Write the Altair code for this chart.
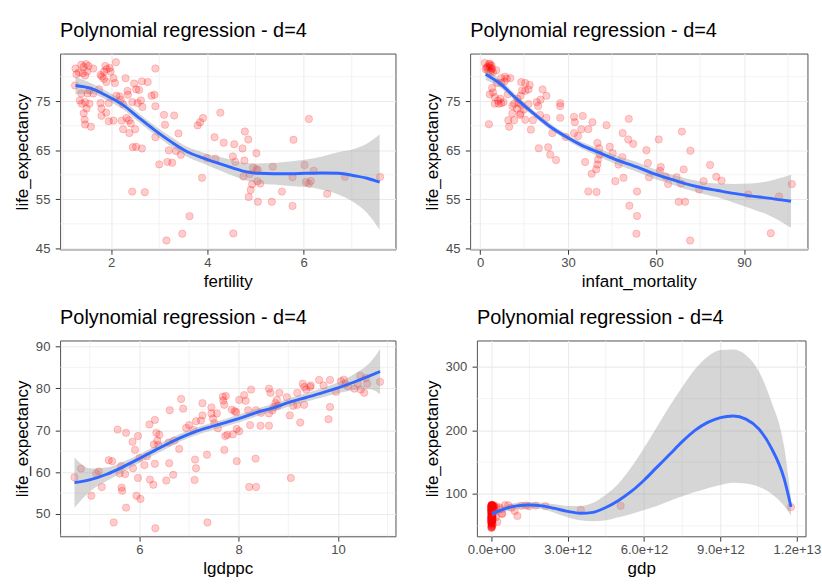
import altair as alt
import pandas as pd

# ---------------- Panel 1: fertility ----------------
fert_x = [1.26, 1.33, 1.38, 1.43, 1.48, 1.53, 1.50, 1.63, 1.78, 1.81, 1.85, 1.88, 1.91, 1.97, 1.99, 2.10, 2.05, 2.92,
          1.28, 1.41, 1.46, 1.85, 1.90, 2.08, 2.30, 2.48, 2.64, 2.76, 1.25, 1.55, 1.75, 1.63, 1.38, 1.51, 2.11, 2.18,
          2.34, 2.35, 2.52, 2.58, 2.84, 2.90, 1.35, 1.39, 1.46, 1.55, 1.49, 1.78, 1.95, 2.20, 2.44, 2.55, 2.62, 2.25,
          2.65, 2.92, 1.43, 1.80, 1.90, 1.80, 1.95, 2.05, 2.22, 2.32, 2.37, 2.41, 1.45, 1.46, 1.58, 2.25, 2.50, 2.38,
          3.10, 3.31, 3.12, 3.40, 2.92, 3.80, 3.85, 3.91, 4.27, 4.15, 4.34, 2.45, 2.52, 2.64, 3.20, 3.35, 3.45, 3.00,
          3.17, 3.27, 3.99, 4.17, 3.89, 2.44, 2.70, 3.63, 3.48, 3.15,
          4.78, 4.85, 4.56, 4.73, 4.53, 4.58, 4.77, 5.02, 4.95, 5.02, 5.05, 4.88, 4.75, 5.04, 5.10, 4.93, 4.90, 4.86,
          5.05, 5.34, 5.36, 5.55, 5.77, 5.79, 5.77, 6.11, 6.02, 6.05, 6.11, 6.15, 6.21, 6.49, 6.86, 7.59, 4.54]
fert_y = [81.65, 80.87, 82.43, 81.97, 82.56, 82.17, 81.0, 81.65, 80.35, 80.02, 81.0, 82.17, 81.52, 81.78, 81.0, 82.95, 79.69, 81.65,
          80.48, 80.68, 80.21, 79.56, 78.91, 78.72, 79.69, 78.59, 79.04, 78.91, 78.2, 77.22, 77.42, 76.57, 76.57, 76.57, 76.11, 75.98,
          77.09, 76.31, 77.42, 77.29, 76.11, 76.31, 75.14, 74.49, 74.81, 74.49, 73.51, 74.62, 74.62, 75.27, 74.81, 74.62, 75.14, 74.36,
          73.83, 73.96, 72.53, 73.51, 72.66, 72.01, 70.91, 71.04, 71.04, 71.56, 71.10, 70.45, 71.23, 70.25, 69.80, 69.28, 69.28, 68.50,
          72.21, 72.08, 70.19, 68.43, 67.65, 70.06, 70.71, 71.56, 72.66, 67.65, 66.54, 65.63, 65.70, 65.37, 64.98, 64.85, 64.07, 62.12,
          62.64, 62.44, 63.42, 63.29, 59.38, 56.58, 56.45, 51.57, 47.99, 46.62,
          68.82, 67.19, 66.22, 65.37, 63.74, 62.64, 62.90, 64.40, 61.47, 61.14, 60.95, 60.16, 59.64, 58.67, 58.21, 58.08, 56.91, 55.47,
          54.50, 54.50, 61.66, 56.58, 59.51, 67.13, 53.65, 71.36, 61.99, 58.54, 58.21, 58.73, 60.82, 56.13, 59.58, 59.58, 48.05]
fert_fit_x = [1.26, 1.58, 1.91, 2.25, 2.58, 2.92, 3.25, 3.58, 3.92, 4.40, 4.72, 5.05, 5.38, 5.72, 6.05, 6.39, 6.72, 7.06, 7.32, 7.58]
fert_fit_y = [78.2, 77.6, 76.1, 74.2, 71.6, 69.0, 66.7, 64.7, 63.4, 61.8, 60.8, 60.3, 60.2, 60.2, 60.3, 60.35, 60.3, 59.8, 59.3, 58.5]
fert_fit_lo = [76.4, 76.5, 75.2, 73.3, 70.7, 68.1, 65.7, 63.7, 62.3, 60.3, 59.1, 58.3, 58.0, 57.7, 57.5, 56.95, 56.0, 54.3, 52.2, 48.8]
fert_fit_hi = [80.0, 78.7, 77.0, 75.1, 72.5, 69.9, 67.7, 65.7, 64.5, 63.3, 62.5, 62.3, 62.4, 62.7, 63.1, 63.75, 64.6, 65.3, 66.4, 68.2]

# ---------------- Panel 2: infant mortality ----------------
im_x = [1.6, 3.0, 3.9, 2.2, 3.3, 4.1, 2.8, 3.6, 5.5, 1.9, 4.4, 3.2, 2.5, 3.9, 3.4,
        7.2, 8.5, 9.1, 10.3, 7.2, 8.3, 5.8, 4.1, 3.3, 4.4, 5.0, 5.0, 6.1, 6.9, 7.2, 6.3, 8.0, 9.4,
        14.0, 15.4, 16.9, 14.3, 15.4, 16.5, 13.8, 12.7, 13.2, 11.6, 11.0, 12.5, 14.1, 14.9, 16.5, 19.3, 19.8, 20.6, 21.3, 22.6,
        13.8, 13.6, 11.0, 11.6, 9.6, 9.9, 15.4, 17.3, 18.0, 20.4, 22.6, 24.6, 27.3, 27.3, 27.3, 29.2, 32.0, 32.3, 35.0, 32.0,
        33.4, 34.5, 36.9, 38.3, 43.1, 50.7, 48.6, 50.5, 52.2,
        40.0, 40.6, 40.8, 40.2, 40.0, 39.6, 38.0, 35.8, 44.2, 45.2, 48.5, 47.2, 46.1, 48.9, 20.0, 23.2, 23.9, 25.9, 3.0,
        36.9, 39.7, 53.5, 50.9, 53.5, 53.3,
        68.8, 60.9, 56.7, 71.7, 57.2, 61.6, 61.3, 57.6, 63.3, 64.1, 67.0, 68.5, 69.4, 67.7, 69.9, 74.7, 76.2, 78.4, 80.5,
        82.3, 91.4, 101.9, 106.3, 99.1, 71.6]
im_y = [82.8, 82.6, 82.3, 81.8, 81.8, 81.7, 81.1, 81.0, 81.3, 81.5, 80.9, 82.2, 82.0, 81.4, 82.6,
        79.7, 80.0, 79.6, 79.7, 78.7, 79.0, 78.7, 77.7, 76.4, 76.8, 75.8, 74.5, 75.1, 75.5, 74.6, 74.5, 74.8, 76.4,
        78.9, 78.7, 78.3, 77.2, 77.1, 77.4, 76.1, 75.5, 74.6, 74.5, 74.0, 73.5, 74.2, 73.3, 74.4, 74.8, 74.0, 75.3, 77.4, 76.1,
        72.5, 72.2, 72.5, 71.1, 71.1, 69.8, 71.2, 69.2, 71.1, 72.2, 71.6, 68.5, 74.6, 74.0, 71.6, 67.7, 71.8, 70.7, 72.0, 68.5,
        67.9, 69.3, 69.3, 70.7, 70.1, 71.4, 68.5, 67.2, 66.3,
        66.5, 65.4, 64.1, 63.1, 62.1, 61.1, 60.2, 62.6, 65.7, 64.4, 63.6, 62.1, 58.7, 59.4, 65.4, 65.6, 64.1, 63.0, 70.3,
        56.6, 56.5, 56.6, 53.7, 51.6, 48.0,
        68.8, 67.2, 65.0, 64.9, 62.4, 61.6, 60.8, 59.5, 59.6, 58.1, 59.5, 58.2, 61.1, 54.5, 54.5, 57.0, 58.7, 62.0, 59.6,
        58.8, 56.0, 55.6, 58.1, 48.1, 46.6]
im_fit_x = [1.9, 7.2, 12.7, 18.2, 23.7, 29.2, 34.7, 40.2, 45.8, 53.4, 58.9, 64.4, 69.9, 75.4, 80.9, 86.5, 92.0, 97.5, 106.0]
im_fit_y = [80.5, 78.4, 75.3, 72.5, 69.9, 67.8, 66.0, 64.6, 63.2, 61.6, 60.3, 59.2, 58.2, 57.4, 56.8, 56.2, 55.7, 55.3, 54.6]
im_fit_lo = [79.3, 77.6, 74.6, 71.9, 69.3, 67.2, 65.3, 63.8, 62.3, 60.6, 59.3, 58.2, 57.1, 56.2, 55.4, 54.3, 53.2, 52.0, 49.2]
im_fit_hi = [81.7, 79.2, 76.0, 73.1, 70.5, 68.4, 66.7, 65.4, 64.1, 62.6, 61.3, 60.2, 59.3, 58.6, 58.2, 58.1, 58.2, 58.6, 60.0]

# ---------------- Panel 3: log gdp per capita ----------------
lg_x = [4.69, 4.82, 5.03, 5.13, 5.18, 5.24, 5.38, 5.45, 5.48, 5.56, 5.60, 5.63, 5.64, 5.65, 5.71, 5.73, 5.73, 5.86, 5.87,
        5.91, 5.94, 5.97, 5.97, 6.00, 6.02, 6.10, 6.15, 6.20, 6.21, 6.28, 6.29, 6.31, 6.31, 6.32, 6.34, 6.36, 6.40, 6.38,
        6.54, 6.59, 6.60, 6.61, 6.68, 6.70, 6.80, 6.84, 6.88, 6.94, 7.00, 7.09, 7.11, 7.12, 7.14, 7.14, 7.27, 7.27, 7.24,
        7.36, 7.37, 7.45, 7.45, 7.48, 7.51, 7.56, 7.58, 7.68, 7.69, 7.71, 7.74, 7.73, 7.71, 7.77,
        7.96, 8.01, 7.88, 7.96, 8.01, 8.11, 8.14, 8.25, 8.19, 8.23, 8.35, 8.34, 8.44, 8.45, 8.61, 8.61, 8.64, 8.61, 8.68,
        8.74, 8.77, 8.79, 8.82, 8.71, 8.97, 9.03, 9.10, 9.18, 9.24, 9.18, 9.29, 9.32, 9.36, 9.44, 9.45, 9.32, 9.62, 9.71,
        9.84, 9.84, 9.81, 9.96, 10.06, 10.12, 10.15, 10.20, 10.33, 10.40, 10.45, 10.46, 10.53, 10.59, 10.56, 10.85,
        9.05, 8.21, 8.35, 7.86, 7.92, 7.95]
lg_y = [58.77, 60.85, 54.38, 59.69, 60.15, 56.46, 62.85, 62.62, 48.0, 70.15, 59.69, 61.46, 56.31, 55.54, 59.54, 69.38, 51.54, 67.23, 60.92,
        65.31, 54.38, 68.62, 58.62, 63.38, 53.62, 61.69, 63.77, 71.38, 58.23, 57.0, 66.62, 72.46, 62.0, 46.62, 69.38, 67.54, 68.92, 66.46,
        58.0, 67.08, 62.15, 74.77, 59.38, 67.54, 65.54, 77.46, 75.15, 70.54, 71.23, 70.08, 58.15, 63.0, 60.92, 72.15, 76.46, 73.54, 72.3,
        64.15, 48.0, 75.46, 74.0, 72.77, 71.69, 74.0, 70.46, 78.0, 77.08, 76.08, 78.15, 68.62, 65.31, 68.9,
        62.62, 69.77, 69.0, 70.31, 77.23, 78.38, 77.0, 79.69, 74.77, 71.23, 74.77, 63.23, 71.08, 74.15, 79.92, 71.08, 78.92, 74.0, 74.77,
        76.46, 77.23, 75.85, 78.92, 75.54, 77.85, 73.54, 75.85, 78.92, 71.85, 76.08, 81.08, 80.31, 79.69, 80.31, 80.69, 76.08, 82.0, 80.69,
        82.0, 75.54, 72.62, 79.15, 81.69, 82.08, 81.08, 80.46, 79.92, 81.08, 83.0, 79.69, 78.92, 81.08, 82.46, 81.54,
        58.62, 56.46, 56.46, 74.92, 74.54, 74.31]
lg_fit_x = [4.69, 5.01, 5.34, 5.66, 5.99, 6.31, 6.64, 6.96, 7.29, 7.73, 8.06, 8.38, 8.71, 9.03, 9.36, 9.68, 10.0, 10.33, 10.65, 10.85]
lg_fit_y = [57.5, 58.2, 59.5, 61.2, 63.2, 65.2, 67.2, 68.9, 70.3, 71.8, 73.0, 74.3, 75.4, 76.7, 77.8, 78.9, 80.1, 81.5, 83.0, 84.0]
lg_fit_lo = [51.5, 55.5, 57.9, 60.0, 62.2, 64.2, 66.2, 68.0, 69.4, 70.9, 72.1, 73.4, 74.5, 75.7, 76.8, 77.8, 78.8, 79.6, 79.8, 78.6]
lg_fit_hi = [63.5, 60.9, 61.1, 62.4, 64.2, 66.2, 68.2, 69.8, 71.2, 72.7, 73.9, 75.2, 76.3, 77.7, 78.8, 80.0, 81.4, 83.4, 86.2, 89.4]

# ---------------- Panel 4: gdp (read in trillions, scaled to dollars below) ----------------
gdp_x_tn = [0.005, 0.02, 0.01, 0.04, 0.015, 0.03, 0.008, 0.06, 0.025, 0.012,
            0.004, 0.018, 0.011, 0.035, 0.016, 0.028, 0.007, 0.05, 0.022, 0.013,
            0.006, 0.021, 0.009, 0.045, 0.014, 0.032, 0.008, 0.07, 0.026, 0.012,
            0.003, 0.019, 0.010, 0.038, 0.017, 0.029, 0.006, 0.055, 0.024, 0.011,
            0.005, 0.023, 0.012, 0.042, 0.015, 0.031, 0.009, 0.065, 0.027, 0.013,
            0.004, 0.02, 0.01, 0.048, 0.016, 0.034, 0.007, 0.08, 0.03, 0.014,
            0.006, 0.022, 0.011, 0.052, 0.018, 0.036, 0.008, 0.09, 0.033, 0.015,
            0.005, 0.025, 0.012, 0.06, 0.02, 0.04, 0.009, 0.1, 0.035, 0.016,
            0.007, 0.028, 0.013, 0.065, 0.022, 0.045, 0.01, 0.11, 0.038, 0.018,
            0.006, 0.03, 0.014, 0.07, 0.024, 0.05, 0.012, 0.12, 0.04, 0.02,
            0.35, 0.42, 0.54, 0.67, 0.80, 0.92, 1.03, 1.18, 1.37, 1.49, 1.75, 2.13, 3.52, 5.08,
            0.24, 0.43, 0.33, 0.20, 0.15, 0.18, 11.77]
gdp_y = [46.6, 47.5, 48.0, 48.1, 49.5, 50.2, 51.6, 52.4, 53.7, 54.5,
         54.5, 55.5, 55.6, 56.1, 56.5, 56.6, 57.0, 57.4, 58.1, 58.2,
         58.7, 59.1, 59.4, 59.6, 60.2, 60.5, 60.8, 61.1, 61.5, 62.0,
         62.4, 62.6, 63.0, 63.4, 63.7, 64.0, 64.4, 64.9, 65.4, 65.7,
         66.2, 66.5, 67.2, 67.8, 68.5, 68.8, 69.3, 69.8, 70.3, 70.7,
         71.0, 71.6, 72.1, 72.5, 72.6, 73.2, 73.5, 73.8, 74.0, 74.3,
         74.5, 74.8, 75.0, 75.2, 75.6, 76.1, 76.4, 76.6, 77.0, 77.2,
         77.4, 77.8, 78.0, 78.3, 78.7, 78.9, 79.1, 79.5, 79.7, 80.0,
         80.2, 80.4, 80.8, 81.0, 81.2, 81.5, 81.6, 81.8, 82.0, 82.2,
         82.3, 82.6, 82.9, 83.0, 71.2, 74.6, 76.8, 79.9, 81.3, 82.5,
         75.8, 69.2, 82.6, 82.3, 78.3, 73.2, 65.6, 81.5, 82.0, 80.8, 81.8, 81.0, 75.0, 81.4,
         56.1, 68.7, 78.8, 80.5, 72.0, 63.5, 79.5]
gdp_fit_x_tn = [0.03, 0.5, 1.0, 1.5, 2.0, 2.5, 3.0, 3.5, 4.0, 4.5, 5.0, 5.5, 6.0, 6.5, 7.0, 7.5, 8.0, 8.5, 9.0,
                9.5, 10.0, 10.5, 11.0, 11.5, 11.77]
gdp_fit_y = [68.7, 76.3, 81.3, 82.8, 81.3, 77.3, 72.7, 69.7, 71.2, 78.8, 89.9, 104.0, 121.7, 141.9, 162.0, 182.3,
             200.0, 212.6, 220.2, 222.7, 217.7, 202.5, 172.2, 124.2, 79.5]
gdp_fit_lo = [64.6, 71.2, 76.3, 77.8, 76.3, 70.2, 63.6, 58.6, 57.1, 58.6, 63.6, 68.7, 74.7, 81.3, 88.9, 96.5,
              103.0, 109.1, 114.1, 117.7, 116.7, 111.6, 100.5, 81.3, 66.0]
gdp_fit_hi = [72.7, 81.3, 86.4, 87.4, 86.4, 83.8, 81.3, 81.3, 86.4, 99.0, 116.7, 141.9, 172.2, 205.0, 237.9, 268.2,
              296.0, 316.2, 326.3, 327.3, 318.7, 293.4, 245.5, 174.7, 92.0]

TITLE = "Polynomial regression - d=4"
FONT = "Liberation Sans"
GRID = "#EBEBEB"


def panel(px, py, fx, fy, flo, fhi, xtitle, xdom, xticks, xminor, ydom, yticks, yminor, width, xlabelexpr=None):
    pts = pd.DataFrame({"x": px, "y": py})
    fit = pd.DataFrame({"x": fx, "y": fy, "lo": flo, "hi": fhi})
    xs = alt.Scale(domain=xdom, nice=False, zero=False)
    ys = alt.Scale(domain=ydom, nice=False, zero=False)
    axkw = dict(values=xticks, title=xtitle, labelFlush=False)
    if xlabelexpr:
        axkw["labelExpr"] = xlabelexpr
    xaxis = alt.Axis(**axkw)
    yaxis = alt.Axis(values=yticks, title="life_expectancy", labelFlush=False)

    mx = alt.Chart(pd.DataFrame({"x": xminor})).mark_rule(color=GRID, strokeWidth=0.6).encode(
        x=alt.X("x:Q", scale=xs, axis=xaxis))
    my = alt.Chart(pd.DataFrame({"y": yminor})).mark_rule(color=GRID, strokeWidth=0.6).encode(
        y=alt.Y("y:Q", scale=ys, axis=yaxis))
    points = alt.Chart(pts).mark_circle(
        size=58, fill="#FF0000", fillOpacity=0.2, stroke="#FF0000", strokeOpacity=0.22, strokeWidth=0.9
    ).encode(x=alt.X("x:Q", scale=xs, axis=xaxis), y=alt.Y("y:Q", scale=ys, axis=yaxis))
    band = alt.Chart(fit).mark_area(color="#999999", opacity=0.4, interpolate="monotone").encode(
        x=alt.X("x:Q", scale=xs, axis=xaxis), y=alt.Y("lo:Q", scale=ys, axis=yaxis), y2="hi:Q")
    line = alt.Chart(fit).mark_line(color="#3366FF", strokeWidth=3, interpolate="monotone").encode(
        x=alt.X("x:Q", scale=xs, axis=xaxis), y=alt.Y("y:Q", scale=ys, axis=yaxis))
    return alt.layer(mx, my, points, band, line).properties(
        width=width, height=202,
        title=alt.TitleParams(TITLE, anchor="start", frame="group", fontSize=20.5, font=FONT,
                              fontWeight="normal", color="black", offset=12),
    )


p1 = panel(fert_x, fert_y, fert_fit_x, fert_fit_y, fert_fit_lo, fert_fit_hi, "fertility",
           [0.94, 7.91], [2, 4, 6], [1, 3, 5, 7], [44.8, 84.7], [45, 55, 65, 75], [50, 60, 70, 80], 346)
p2 = panel(im_x, im_y, im_fit_x, im_fit_y, im_fit_lo, im_fit_hi, "infant_mortality",
           [-3.4, 111.6], [0, 30, 60, 90], [15, 45, 75, 105], [44.8, 84.7], [45, 55, 65, 75], [50, 60, 70, 80], 348)
p3 = panel(lg_x, lg_y, lg_fit_x, lg_fit_y, lg_fit_lo, lg_fit_hi, "lgdppc",
           [4.4, 11.16], [6, 8, 10], [5, 7, 9, 11], [44.7, 91.4], [50, 60, 70, 80, 90], [45, 55, 65, 75, 85], 346)
p4 = panel([v * 1e12 for v in gdp_x_tn], gdp_y, [v * 1e12 for v in gdp_fit_x_tn], gdp_fit_y, gdp_fit_lo, gdp_fit_hi,
           "gdp", [-0.56e12, 12.34e12], [0, 3e12, 6e12, 9e12, 12e12], [1.5e12, 4.5e12, 7.5e12, 10.5e12],
           [33.5, 341.4], [100, 200, 300], [50, 150, 250], 339,
           xlabelexpr="datum.value == 0 ? '0.0e+00' : format(datum.value, '.1e')")

chart = alt.vconcat(
    alt.hconcat(p1, p2, spacing=27),
    alt.hconcat(p3, p4, spacing=27),
    spacing=18,
).configure(
    padding={"left": 13, "top": 12, "right": 0, "bottom": 0},
    background="white",
).configure_view(
    stroke="#4D4D4D", strokeWidth=1
).configure_axis(
    grid=True, gridColor=GRID, gridWidth=1.1, domain=False,
    tickColor="#333333", tickSize=5, tickWidth=1,
    labelColor="#4D4D4D", labelFontSize=13.5, labelFont=FONT,
    titleFont=FONT, titleFontSize=17.5, titleFontWeight="normal", titleColor="black",
).configure_axisX(
    titlePadding=4, labelPadding=1.5
).configure_axisY(
    titlePadding=4, labelPadding=5.5
)

chart.save("out.html", embed_options={"renderer": "svg", "actions": False})
